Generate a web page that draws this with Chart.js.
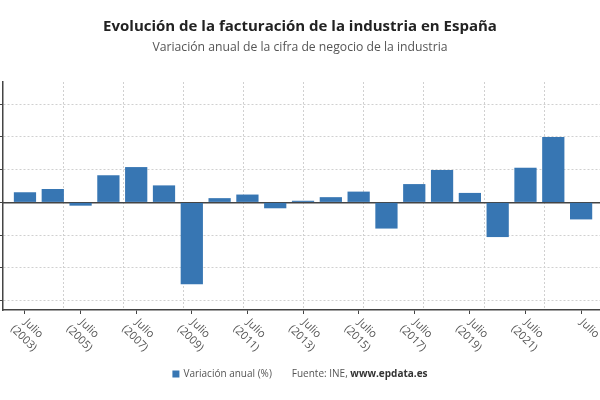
<!DOCTYPE html>
<html>
<head>
<meta charset="utf-8">
<script src="https://cdn.jsdelivr.net/npm/chart.js@4.4.0/dist/chart.umd.min.js"></script>
<style>
  html, body { margin: 0; padding: 0; background: #fff; }
  #wrap { width: 600px; height: 400px; }
</style>
</head>
<body>
<div id="wrap"><canvas id="industryChart"></canvas></div>
<script>
// July year-on-year change of industrial turnover, 2003-2023
const years = [2003, 2004, 2005, 2006, 2007, 2008, 2009, 2010, 2011, 2012,
               2013, 2014, 2015, 2016, 2017, 2018, 2019, 2020, 2021, 2022, 2023];
const variation = [3.1, 4.1, -1.0, 8.3, 10.8, 5.2, -25.0, 1.3, 2.4, -1.8,
                   0.5, 1.6, 3.3, -8.0, 5.6, 9.9, 2.9, -10.6, 10.6, 20.0, -5.2];
const tickLabels = ['Julio (2003)', 'Julio (2005)', 'Julio (2007)', 'Julio (2009)',
                    'Julio (2011)', 'Julio (2013)', 'Julio (2015)', 'Julio (2017)',
                    'Julio (2019)', 'Julio (2021)', 'Julio'];
const seriesName = 'Variación anual (%)';
const sourceText = 'Fuente: INE, ';
const sourceSite = 'www.epdata.es';

const barColor = '#3776b3';
const yMin = -32.9, yMax = 36.8;
const xMin = -0.79, xMax = 20.68;

// rotated two-line labels under the x axis
const xLabels = {
  id: 'xLabels',
  afterDraw(chart) {
    const { ctx, scales: { x } } = chart;
    ctx.save();
    ctx.font = '11px "Open Sans"';
    ctx.fillStyle = '#555';
    ctx.textAlign = 'center';
    ctx.textBaseline = 'middle';
    x.ticks.forEach((t, i) => {
      const px = x.getPixelForValue(t.value);
      const lines = tickLabels[i].split(' ');
      ctx.save();
      ctx.translate(px, x.top + 3);
      ctx.rotate(45 * Math.PI / 180);
      lines.forEach((line, k) => ctx.fillText(line, 17, 5 + k * 13.8));
      ctx.restore();
    });
    ctx.restore();
  }
};

// legend + source line at the bottom
const footer = {
  id: 'footer',
  afterDraw(chart) {
    const ctx = chart.ctx;
    const y = 374;
    ctx.save();
    ctx.textBaseline = 'middle';
    ctx.font = '10px "Open Sans"';
    const w1 = ctx.measureText(seriesName).width;
    const w2 = ctx.measureText(sourceText).width;
    ctx.font = 'bold 10px "Open Sans"';
    const w3 = ctx.measureText(sourceSite).width;
    const box = 7, gap1 = 4, gap2 = 20;
    let x = (chart.width - (box + gap1 + w1 + gap2 + w2 + w3)) / 2;
    ctx.fillStyle = barColor;
    ctx.fillRect(x, y - 3.5, box, box);
    x += box + gap1;
    ctx.fillStyle = '#555';
    ctx.font = '10px "Open Sans"';
    ctx.fillText(seriesName, x, y);
    x += w1 + gap2;
    ctx.fillText(sourceText, x, y);
    x += w2;
    ctx.font = 'bold 10px "Open Sans"';
    ctx.fillStyle = '#333';
    ctx.fillText(sourceSite, x, y);
    ctx.restore();
  }
};

new Chart(document.getElementById('industryChart'), {
  type: 'bar',
  data: {
    datasets: [{
      label: seriesName,
      data: variation.map((v, i) => ({ x: i, y: v })),
      backgroundColor: barColor,
      borderWidth: 0,
      barPercentage: 1,
      categoryPercentage: 0.8
    }]
  },
  options: {
    responsive: true,
    maintainAspectRatio: false,
    animation: false,
    layout: { padding: 0 },
    scales: {
      x: {
        type: 'linear',
        min: xMin,
        max: xMax,
        offset: false,
        afterBuildTicks: s => { s.ticks = tickLabels.map((_, i) => ({ value: i * 2 })); },
        afterFit: s => { s.height = 90; },
        ticks: { display: false },
        grid: { offset: false, drawOnChartArea: false, tickLength: 4, tickColor: '#444' },
        border: { color: '#444', width: 1.5 }
      },
      x2: {
        type: 'linear',
        position: 'top',
        display: true,
        min: xMin,
        max: xMax,
        offset: false,
        // vertical dotted guides, every 60 px
        afterBuildTicks: s => {
          const t = [];
          for (let v = 1.378; v < xMax; v += 2.162) t.push({ value: v });
          s.ticks = t;
        },
        ticks: { display: false },
        grid: { offset: false, drawTicks: false, color: '#d0d0d0' },
        border: { display: false, dash: [2, 2] }
      },
      y: {
        min: yMin,
        max: yMax,
        ticks: { display: false, stepSize: 10, includeBounds: false },
        grid: {
          color: c => c.tick.value === 0 ? 'transparent' : '#d0d0d0',
          tickLength: 3,
          tickColor: '#444'
        },
        border: { color: '#444', width: 1.5, dash: [2, 2] }
      },
      y2: {
        position: 'right',
        display: true,
        min: yMin,
        max: yMax,
        ticks: { display: false, stepSize: 10, includeBounds: false },
        grid: {
          drawTicks: false,
          color: c => c.tick.value === 0 ? '#444' : 'transparent',
          lineWidth: 1.5
        },
        border: { display: false }
      }
    },
    plugins: {
      legend: { display: false },
      tooltip: { enabled: false },
      title: {
        display: true,
        text: 'Evolución de la facturación de la industria en España',
        color: '#222',
        font: { family: 'Open Sans', size: 15, weight: 'bold' },
        padding: { top: 18, bottom: 0 }
      },
      subtitle: {
        display: true,
        text: 'Variación anual de la cifra de negocio de la industria',
        color: '#555',
        font: { family: 'Open Sans', size: 12.2, weight: 'normal' },
        padding: { top: 4, bottom: 27.4 }
      }
    }
  },
  plugins: [xLabels, footer]
});
</script>
</body>
</html>
